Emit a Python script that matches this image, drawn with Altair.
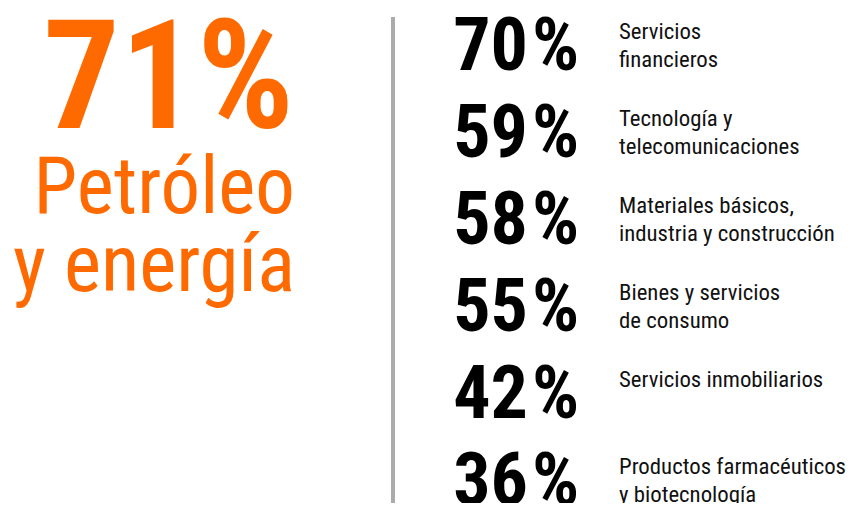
import altair as alt
import pandas as pd

# ---- data ----
headline_value = 71
headline_lines = ["Petróleo", "y energía"]
sectors = [
    "Servicios\nfinancieros",
    "Tecnología y\ntelecomunicaciones",
    "Materiales básicos,\nindustria y construcción",
    "Bienes y servicios\nde consumo",
    "Servicios inmobiliarios",
    "Productos farmacéuticos\ny biotecnología",
]
values = [70, 59, 58, 55, 42, 36]

ORANGE = "#FF6A00"
FONT = "Roboto Condensed, Roboto, sans-serif"

df = pd.DataFrame({"rank": list(range(len(values))), "value": values, "sector": sectors})
df["num"] = df["value"].astype(str)

head = pd.DataFrame({"text": [f"{headline_value}%"] + headline_lines, "line": [0, 1, 2]})

yscale = alt.Scale(domain=[0, len(values) - 1], range=[62, 497])

base = alt.Chart(df)

numbers = base.mark_text(
    align="right", baseline="alphabetic", font=FONT, fontWeight="bold",
    fontSize=74, color="#000000"
).encode(
    x=alt.value(520),
    y=alt.Y("rank:Q", scale=yscale, axis=None),
    text="num:N",
)

pct = base.mark_text(
    align="left", baseline="alphabetic", font=FONT, fontWeight="bold",
    fontSize=74, color="#000000", text="%"
).encode(
    x=alt.value(524),
    y=alt.Y("rank:Q", scale=yscale, axis=None),
)

labels = base.mark_text(
    align="left", baseline="alphabetic", font=FONT, fontSize=22.8,
    color="#111111", lineBreak="\n", lineHeight=28, dy=-31
).encode(
    x=alt.value(611),
    y=alt.Y("rank:Q", scale=yscale, axis=None),
    text="sector:N",
)

hbase = alt.Chart(head)

big = hbase.transform_filter(alt.datum.line == 0).mark_text(
    align="right", baseline="alphabetic", font=FONT, fontWeight="bold",
    fontSize=152, color=ORANGE
).encode(x=alt.value(286), y=alt.value(120), text="text:N")

line1 = hbase.transform_filter(alt.datum.line == 1).mark_text(
    align="right", baseline="alphabetic", font=FONT, fontWeight="normal",
    fontSize=79, color=ORANGE
).encode(x=alt.value(287), y=alt.value(205), text="text:N")

line2 = hbase.transform_filter(alt.datum.line == 2).mark_text(
    align="right", baseline="alphabetic", font=FONT, fontWeight="normal",
    fontSize=79, color=ORANGE
).encode(x=alt.value(287), y=alt.value(283), text="text:N")

divider = hbase.transform_filter(alt.datum.line == 0).mark_rule(
    color="#ababab", strokeWidth=4
).encode(x=alt.value(385), y=alt.value(9), y2=alt.value(495))

chart = alt.layer(divider, big, line1, line2, numbers, pct, labels).properties(
    width=839, height=495, padding=0, autosize=alt.AutoSizeParams(type="none")
).configure_view(stroke=None)

chart.save("out.html", embed_options={"renderer": "svg", "actions": False})
